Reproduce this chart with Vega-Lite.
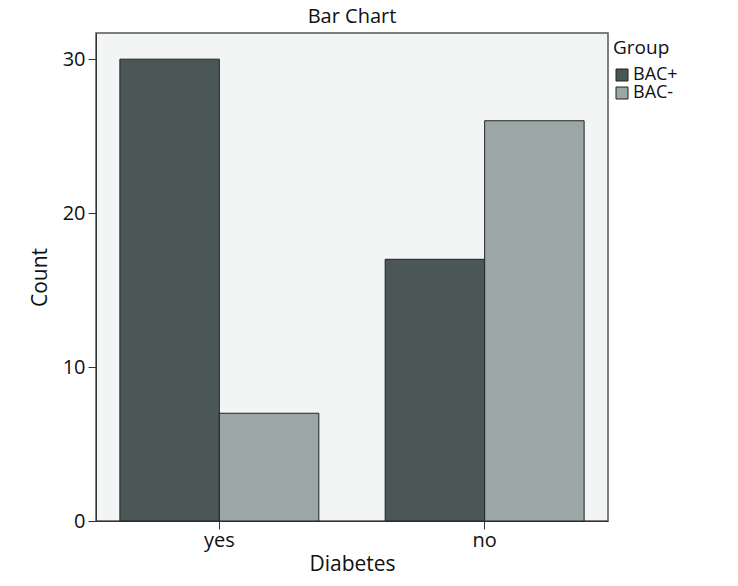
{
  "$schema": "https://vega.github.io/schema/vega-lite/v6.json",
  "autosize": {"type": "none"},
  "padding": {"left": 96, "top": 33, "right": 130, "bottom": 65},
  "width": 512,
  "height": 488,
  "background": "white",
  "title": {"text": "Bar Chart", "fontSize": 20, "font": "Open Sans", "fontWeight": "normal", "color": "#111", "offset": 6},
  "data": {"values": [
    {"Diabetes": "yes", "Group": "BAC+", "Count": 30},
    {"Diabetes": "yes", "Group": "BAC-", "Count": 7},
    {"Diabetes": "no", "Group": "BAC+", "Count": 17},
    {"Diabetes": "no", "Group": "BAC-", "Count": 26}
  ]},
  "mark": {"type": "bar", "stroke": "#222", "strokeWidth": 1},
  "encoding": {
    "x": {"field": "Diabetes", "type": "nominal", "sort": ["yes", "no"],
      "scale": {"paddingInner": 0.25, "paddingOuter": 0.09},
      "axis": {"labelAngle": 0, "title": "Diabetes", "titleFontSize": 21, "labelFontSize": 20, "titleFontWeight": "normal", "labelFont": "Open Sans", "titleFont": "Open Sans", "labelColor": "#111", "titleColor": "#111", "tickColor": "#333", "tickSize": 8, "domainColor": "#333", "labelPadding": 1, "titlePadding": 3}},
    "xOffset": {"field": "Group", "type": "nominal", "sort": ["BAC+", "BAC-"], "scale": {"paddingInner": 0, "paddingOuter": 0}},
    "y": {"field": "Count", "type": "quantitative",
      "scale": {"domain": [0, 31.7], "nice": false, "zero": true},
      "axis": {"values": [0, 10, 20, 30], "grid": false, "title": "Count", "titleFontSize": 21, "labelFontSize": 20, "titleFontWeight": "normal", "labelFont": "Open Sans", "titleFont": "Open Sans", "labelColor": "#111", "titleColor": "#111", "tickColor": "#333", "tickSize": 8, "domainColor": "#333", "labelPadding": 3, "titlePadding": 12}},
    "fill": {"field": "Group", "type": "nominal", "sort": ["BAC+", "BAC-"],
      "scale": {"domain": ["BAC+", "BAC-"], "range": ["#4b5656", "#9ba7a6"]},
      "legend": {"title": "Group", "orient": "none", "legendX": 517, "legendY": 6, "titleFontSize": 19, "labelFontSize": 18, "titleFontWeight": "normal", "titleFont": "Open Sans", "labelFont": "Open Sans", "titleColor": "#111", "labelColor": "#111", "titlePadding": 8, "symbolType": "square", "symbolSize": 144, "symbolStrokeColor": "#222", "symbolStrokeWidth": 1, "padding": 0, "rowPadding": 0, "labelOffset": 2}}
  },
  "config": {
    "view": {"fill": "#f3f5f5", "stroke": "#555", "strokeWidth": 1.5}
  }
}
